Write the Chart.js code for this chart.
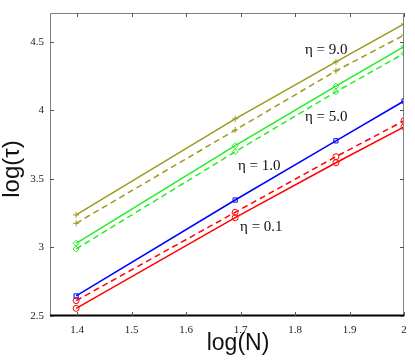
<!DOCTYPE html>
<html><head><meta charset="utf-8">
<script src="https://cdn.jsdelivr.net/npm/chart.js@4/dist/chart.umd.min.js"></script>
<style>html,body{margin:0;padding:0;background:#fff}#wrap{width:415px;height:362px}</style>
</head><body><div id="wrap"><canvas id="c" width="415" height="362"></canvas></div>
<script>
const logN = [1.398, 1.690, 1.875, 2.0];
const eta9Solid = [3.237, 3.938, 4.354, 4.630];
const eta9Dashed = [3.176, 3.856, 4.288, 4.549];
const eta5Solid = [3.030, 3.742, 4.177, 4.464];
const eta5Dashed = [2.989, 3.698, 4.135, 4.415];
const eta1Solid = [2.646, 3.346, 3.778, 4.068];
const eta01Dashed = [2.612, 3.256, 3.662, 3.924];
const eta01Solid = [2.556, 3.217, 3.618, 3.880];
const xTicks = [1.4, 1.5, 1.6, 1.7, 1.8, 1.9, 2.0];
const yTicks = [2.5, 3, 3.5, 4, 4.5];
const labels = [
  {text: 'η = 9.0', x: 1.818, y: 4.44},
  {text: 'η = 5.0', x: 1.818, y: 3.95},
  {text: 'η = 1.0', x: 1.695, y: 3.59},
  {text: 'η = 0.1', x: 1.699, y: 3.15}
];

const OLIVE = '#9c9a1c', GREEN = '#22ee22', BLUE = '#0000ff', RED = '#ff0000';
function pts(ys){ return logN.map((x,i)=>({x:x,y:ys[i]})); }
function ds(ys, color, dashed, style){
  return {data: pts(ys), borderColor: color, backgroundColor: 'rgba(255,255,255,0)',
    borderWidth: 1.5, borderDash: dashed ? [6,4] : [], pointStyle: style,
    pointRadius: 3, pointBorderWidth: 1, pointBorderColor: color, tension: 0, fill: false};
}

const frame = {
  id: 'frame',
  afterDraw(chart){
    const {ctx, chartArea: a, scales: {x, y}} = chart;
    ctx.save();
    ctx.strokeStyle = '#808080'; ctx.lineWidth = 1;
    ctx.beginPath();
    ctx.moveTo(a.left+0.5, a.bottom); ctx.lineTo(a.left+0.5, a.top+0.5);
    ctx.lineTo(a.right-0.5, a.top+0.5); ctx.lineTo(a.right-0.5, a.bottom);
    ctx.stroke();
    ctx.strokeStyle = '#000'; ctx.lineWidth = 2;
    ctx.beginPath(); ctx.moveTo(a.left, a.bottom-0.5); ctx.lineTo(a.right, a.bottom-0.5); ctx.stroke();
    ctx.lineWidth = 1; ctx.strokeStyle = '#555';
    ctx.beginPath();
    xTicks.forEach(v=>{ const px = Math.round(x.getPixelForValue(v))+0.5;
      ctx.moveTo(px, a.bottom); ctx.lineTo(px, a.bottom-4);
      ctx.moveTo(px, a.top); ctx.lineTo(px, a.top+4); });
    yTicks.forEach(v=>{ const py = Math.round(y.getPixelForValue(v))+0.5;
      ctx.moveTo(a.left, py); ctx.lineTo(a.left+4, py);
      ctx.moveTo(a.right, py); ctx.lineTo(a.right-4, py); });
    ctx.stroke();
    ctx.fillStyle = '#111';
    ctx.font = '15px "Liberation Serif"';
    ctx.textAlign = 'left'; ctx.textBaseline = 'middle';
    labels.forEach(l=>ctx.fillText(l.text, x.getPixelForValue(l.x), y.getPixelForValue(l.y)));
    ctx.font = '23px "Liberation Sans"';
    ctx.textAlign = 'center';
    ctx.fillText('log(N)', 238, 344);
    ctx.translate(12, 169); ctx.rotate(-Math.PI/2);
    ctx.font = '24px "Liberation Sans"';
    ctx.fillText('log(τ)', 0, 0);
    ctx.restore();
  }
};

new Chart(document.getElementById('c'), {
  type: 'line',
  data: { datasets: [
    ds(eta9Solid, OLIVE, false, 'cross'),
    ds(eta9Dashed, OLIVE, true, 'cross'),
    ds(eta5Solid, GREEN, false, 'rectRot'),
    ds(eta5Dashed, GREEN, true, 'rectRot'),
    ds(eta1Solid, BLUE, false, 'rect'),
    ds(eta01Dashed, RED, true, 'circle'),
    ds(eta01Solid, RED, false, 'circle')
  ]},
  options: {
    responsive: false, animation: false, devicePixelRatio: 1,
    layout: {padding: {top: 13, right: 11, left: 0, bottom: 0}},
    plugins: {legend: {display: false}, tooltip: {enabled: false}},
    scales: {
      x: {type: 'linear', min: 1.35, max: 2.0,
        afterBuildTicks: s => { s.ticks = xTicks.map(v=>({value:v})); },
        afterFit: s => { s.height = 46; },
        grid: {display: false, drawTicks: false}, border: {display: false},
        ticks: {padding: 8, color: '#222', font: {family: 'Liberation Serif', size: 11},
          maxRotation: 0, autoSkip: false, callback: v => String(Math.round(v*10)/10)}},
      y: {type: 'linear', min: 2.5, max: 4.71,
        afterBuildTicks: s => { s.ticks = yTicks.map(v=>({value:v})); },
        afterFit: s => { s.width = 50; },
        grid: {display: false, drawTicks: false}, border: {display: false},
        ticks: {padding: 6, color: '#222', font: {family: 'Liberation Serif', size: 11},
          autoSkip: false, callback: v => String(v)}}
    }
  },
  plugins: [frame]
});
</script></body></html>
